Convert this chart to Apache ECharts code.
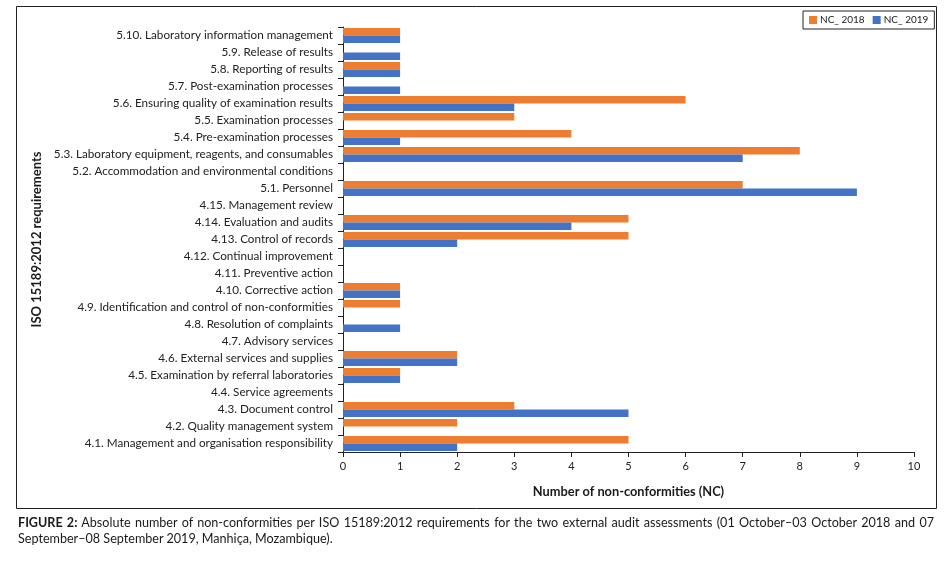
<!DOCTYPE html>
<html>
<head>
<meta charset="utf-8">
<script src="https://cdn.jsdelivr.net/npm/echarts@6/dist/echarts.min.js"></script>
<style>
html,body{margin:0;padding:0;background:#fff;}
#chart{position:absolute;left:0;top:0;width:950px;height:561px;}
#caption{position:absolute;left:18px;top:515px;width:916px;font-family:Lato,"Open Sans",sans-serif;font-size:12.6px;line-height:16px;color:#1a1a1a;text-align:justify;}
</style>
</head>
<body>
<div id="chart"></div>
<div id="caption"><b>FIGURE 2:</b> Absolute number of non-conformities per ISO 15189:2012 requirements for the two external audit assessments (01 October–03 October 2018 and 07 September–08 September 2019, Manhiça, Mozambique).</div>
<script>
const categories = [
  "5.10. Laboratory information management",
  "5.9. Release of results",
  "5.8. Reporting of results",
  "5.7. Post-examination processes",
  "5.6. Ensuring quality of examination results",
  "5.5. Examination processes",
  "5.4. Pre-examination processes",
  "5.3. Laboratory equipment, reagents, and consumables",
  "5.2. Accommodation and environmental conditions",
  "5.1. Personnel",
  "4.15. Management review",
  "4.14. Evaluation and audits",
  "4.13. Control of records",
  "4.12. Continual improvement",
  "4.11. Preventive action",
  "4.10. Corrective action",
  "4.9. Identification and control of non-conformities",
  "4.8. Resolution of complaints",
  "4.7. Advisory services",
  "4.6. External services and supplies",
  "4.5. Examination by referral laboratories",
  "4.4. Service agreements",
  "4.3. Document control",
  "4.2. Quality management system",
  "4.1. Management and organisation responsibility"
];
const nc2018 = [1,0,1,0,6,3,4,8,0,7,0,5,5,0,0,1,1,0,0,2,1,0,3,2,5];
const nc2019 = [1,1,1,1,3,0,1,7,0,9,0,4,2,0,0,1,0,1,0,2,1,0,5,0,2];
const xTicks = [0,1,2,3,4,5,6,7,8,9,10];

const FONT = "Lato, 'Open Sans', sans-serif";
const chart = echarts.init(document.getElementById('chart'), null, {renderer:'canvas'});
chart.setOption({
  animation:false,
  textStyle:{fontFamily:FONT},
  graphic:[{type:'rect',shape:{x:16.5,y:6.5,width:920,height:502},style:{fill:'none',stroke:'#222',lineWidth:1},silent:true}],
  legend:{
    left:803, top:11, padding:[4,6], itemGap:8,
    borderColor:'#222', borderWidth:1,
    itemWidth:8, itemHeight:8, icon:'rect',
    textStyle:{fontFamily:FONT,fontSize:10,color:'#222',padding:[0,0,0,-2]},
    data:['NC_ 2018','NC_ 2019']
  },
  grid:{left:343, right:36, top:27, bottom:109, containLabel:false},
  xAxis:{
    type:'value', min:xTicks[0], max:xTicks[xTicks.length-1], interval:1,
    name:'Number of non-conformities (NC)', nameLocation:'middle', nameGap:33,
    nameTextStyle:{fontFamily:FONT,fontSize:12.8,fontWeight:'bold',color:'#1a1a1a'},
    axisLine:{show:true,lineStyle:{color:'#222',width:1}},
    axisTick:{show:true,length:5,lineStyle:{color:'#222'}},
    axisLabel:{fontFamily:FONT,fontSize:11,color:'#222',margin:9},
    splitLine:{show:false}
  },
  yAxis:{
    type:'category', data:categories, inverse:true,
    name:'ISO 15189:2012 requirements', nameLocation:'middle', nameGap:293, nameRotate:90,
    nameTextStyle:{fontFamily:FONT,fontSize:13,fontWeight:'bold',color:'#1a1a1a'},
    axisLine:{show:true,lineStyle:{color:'#222',width:1}},
    axisTick:{show:true,length:5,alignWithLabel:false,lineStyle:{color:'#222'}},
    axisLabel:{fontFamily:FONT,fontSize:11.7,color:'#222',margin:10,interval:0}
  },
  series:[
    {name:'NC_ 2018',type:'bar',data:nc2018,barGap:'0%',barCategoryGap:'12%',itemStyle:{color:'#ED7D31'}},
    {name:'NC_ 2019',type:'bar',data:nc2019,barGap:'0%',barCategoryGap:'12%',itemStyle:{color:'#4472C4'}}
  ]
});
</script>
</body>
</html>
